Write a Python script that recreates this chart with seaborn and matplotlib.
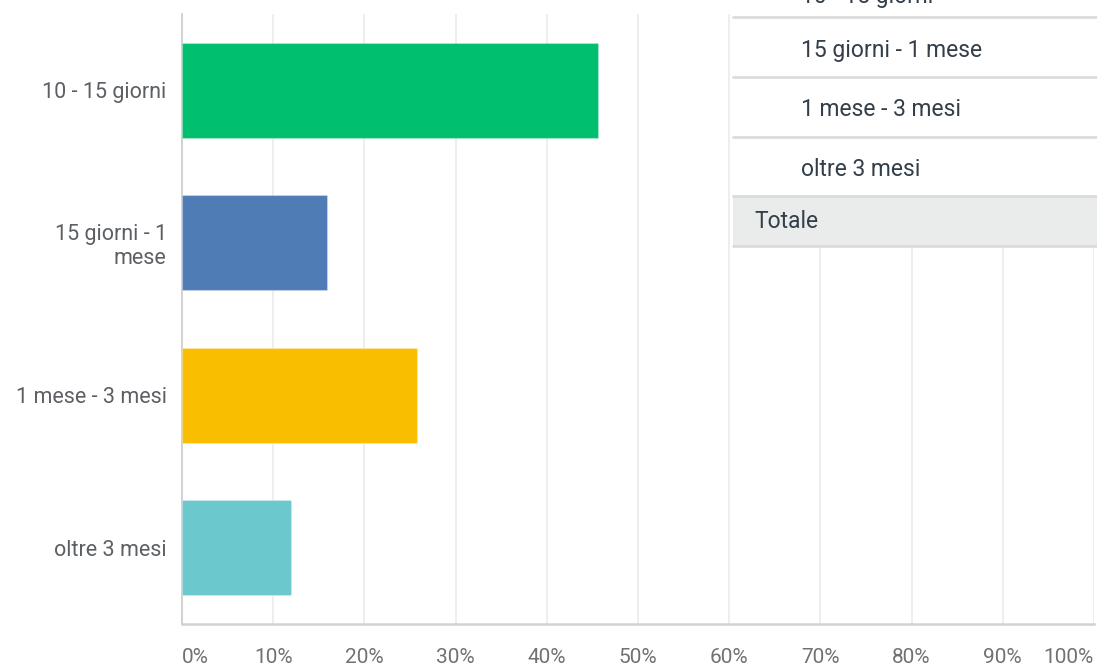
import matplotlib
matplotlib.use("Agg")
import matplotlib.pyplot as plt
from matplotlib.patches import Rectangle
from matplotlib.lines import Line2D
import seaborn as sns
import pandas as pd

# Response categories and their share of answers (%)
categories = ["10 - 15 giorni", "15 giorni - 1\nmese", "1 mese - 3 mesi", "oltre 3 mesi"]
shares = [45.65, 15.95, 25.75, 12.0]
bar_colors = ["#00bf6f", "#507cb6", "#f9be00", "#6bc8cd"]
x_ticks = [0, 10, 20, 30, 40, 50, 60, 70, 80, 90, 100]
x_tick_labels = ["0%", "10%", "20%", "30%", "40%", "50%", "60%", "70%", "80%", "90%", "100%"]

# Answer table rows shown over the top-right corner
table_rows = ["10 - 15 giorni", "15 giorni - 1 mese", "1 mese - 3 mesi", "oltre 3 mesi"]
table_total = "Totale"

sns.set_theme(style="white")
plt.rcParams["font.family"] = ["Roboto", "DejaVu Sans"]

W, H = 1097, 670
fig = plt.figure(figsize=(W / 100, H / 100), dpi=100)


def fx(px):
    return px / W


def fy(py):
    return 1 - py / H


ax = fig.add_axes([fx(182), fy(624), fx(1094) - fx(182), fy(14) - fy(624)])

df = pd.DataFrame({"category": categories, "share": shares})
sns.barplot(data=df, x="share", y="category", hue="category",
            palette=bar_colors, legend=False, orient="h", width=0.62,
            saturation=1, edgecolor="#ffffff40", linewidth=0.8, ax=ax, zorder=3)

ax.set_xlim(0, 100)
ax.set_ylim(3.5, -0.5)
ax.set_xlabel("")
ax.set_ylabel("")

ax.set_xticks(x_ticks)
ax.set_xticklabels(x_tick_labels)
for i, lbl in enumerate(ax.get_xticklabels()):
    lbl.set_color("#6f7275")
    lbl.set_fontsize(15)
    if i == 0:
        lbl.set_horizontalalignment("left")
    elif i == len(x_ticks) - 1:
        lbl.set_horizontalalignment("right")
ax.tick_params(axis="x", length=0, pad=17)
ax.tick_params(axis="y", length=0, pad=11)
for lbl in ax.get_yticklabels():
    lbl.set_color("#5c6064")
    lbl.set_fontsize(15.5)
    lbl.set_horizontalalignment("right")
    lbl.set_multialignment("right")

ax.grid(axis="x", color="#ebebeb", linewidth=1.2, zorder=0)
ax.set_axisbelow(True)
for side in ("top", "right"):
    ax.spines[side].set_visible(False)
ax.spines["left"].set_color("#cfcfcf")
ax.spines["left"].set_linewidth(1.3)
ax.spines["bottom"].set_color("#d2d2d2")
ax.spines["bottom"].set_linewidth(1.8)

# Answer table overlay
tx0, tx1 = 733, W
fig.patches.append(Rectangle((fx(tx0), fy(246)), fx(tx1) - fx(tx0), fy(0) - fy(246),
                             transform=fig.transFigure, facecolor="white",
                             edgecolor="none", zorder=5))
fig.patches.append(Rectangle((fx(tx0), fy(246)), fx(tx1) - fx(tx0), fy(197) - fy(246),
                             transform=fig.transFigure, facecolor="#eaecec",
                             edgecolor="none", zorder=6))
for sep in (17, 77, 137, 196, 246):
    fig.lines.append(Line2D([fx(tx0), fx(tx1)], [fy(sep), fy(sep)],
                            transform=fig.transFigure, color="#dadcdc",
                            linewidth=2.0, zorder=7))

row_centers = [-4, 50, 109, 169]
for text, yc in zip(table_rows, row_centers):
    fig.text(fx(801), fy(yc), text, ha="left", va="center", fontsize=16.5,
             color="#333e48", zorder=8)
fig.text(fx(754), fy(221), table_total, ha="left", va="center", fontsize=16.5,
         color="#333e48", zorder=8)

fig.savefig("out.png", dpi=100)
